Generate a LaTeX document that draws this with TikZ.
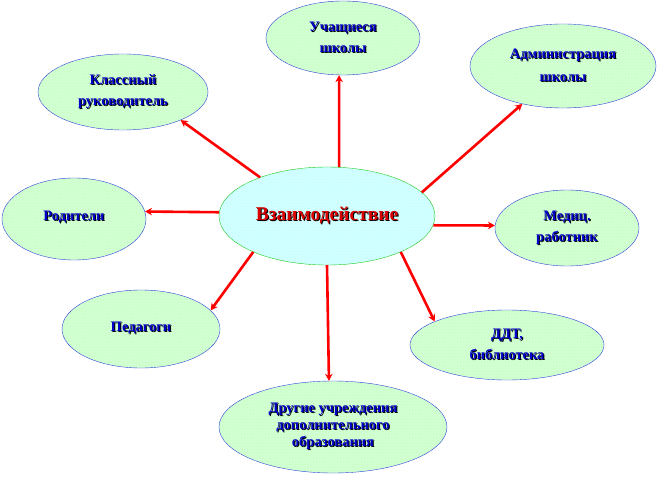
\documentclass[tikz,border=0pt]{standalone}
\usepackage{fontspec}
\setmainfont{Liberation Serif}
\usepackage{xcolor}
\usepackage{tikz}
\usetikzlibrary{shapes.geometric,arrows.meta,patterns}

\definecolor{mintfill}{RGB}{204,255,204}
\definecolor{iceblue}{RGB}{204,255,255}
\definecolor{inkblue}{RGB}{0,0,200}
\definecolor{rimblue}{RGB}{40,60,220}
\definecolor{rimgreen}{RGB}{20,200,20}
\newcommand\shd[1]{\leavevmode\rlap{\hspace{1pt}\raisebox{-1pt}{\color{black}#1}}#1}

\tikzset{
  bubble/.style={ellipse, draw=rimblue, thin, fill=mintfill,
    postaction={pattern=dots, pattern color=white},
    inner sep=0pt, align=center, text=inkblue,
    font=\bfseries\fontsize{14.5}{21}\selectfont},
  hub/.style={bubble, draw=rimgreen, fill=iceblue, text=red!85!black,
    font=\bfseries\fontsize{19.5}{22}\selectfont},
  link/.style={red, line width=2.6pt, -{Stealth[length=7pt,width=7.5pt]}}
}

\begin{document}
\begin{tikzpicture}[x=1pt, y=-1pt]
    \useasboundingbox (0,0) rectangle (666,478);
    % centre
    \node[hub, minimum width=216, minimum height=98] (hub) at (327,216) {\shd{Взаимодействие}};
    % partners
    \node[bubble, minimum width=154, minimum height=74] (stud) at (343,38) {\shd{Учащиеся}\\\shd{школы}};
    \node[bubble, minimum width=186, minimum height=84] (admin) at (563,66) {\raisebox{2pt}{\shd{Администрация}}\\\shd{школы}};
    \node[bubble, minimum width=170, minimum height=76] (tutor) at (123,92) {\shd{Классный}\\\shd{руководитель}};
    \node[bubble, minimum width=144, minimum height=82] (par) at (74,219) {\raisebox{7pt}{\shd{Родители}}};
    \node[bubble, minimum width=144, minimum height=76] (med) at (567,228) {\shd{Медиц.}\\\shd{работник}};
    \node[bubble, minimum width=158, minimum height=78] (ped) at (141,329) {\raisebox{2pt}{\shd{Педагоги}}};
    \node[bubble, minimum width=194, minimum height=70] (ddt) at (507,345) {\shd{ДДТ,}\\\shd{библиотека}};
    \node[bubble, minimum width=228, minimum height=92, font=\bfseries\fontsize{14.5}{17}\selectfont] (other) at (333,427)
        {\shd{Другие учреждения}\\\shd{дополнительного}\\\shd{образования}};
    % arrows
    \draw[link] (hub.76) -- (stud.-96);
    \draw[link] (hub.14) -- (admin.-137);
    \draw[link] (hub.150) -- (tutor.-26);
    \draw[link] (hub.178) -- (par.6);
    \draw[link] (hub.-5) -- (med.178);
    \draw[link] (hub.-154) -- (ped.15);
    \draw[link] (hub.-26) -- (ddt.162);
    \draw[link] (hub.south) -- (other.95);
\end{tikzpicture}
\end{document}
